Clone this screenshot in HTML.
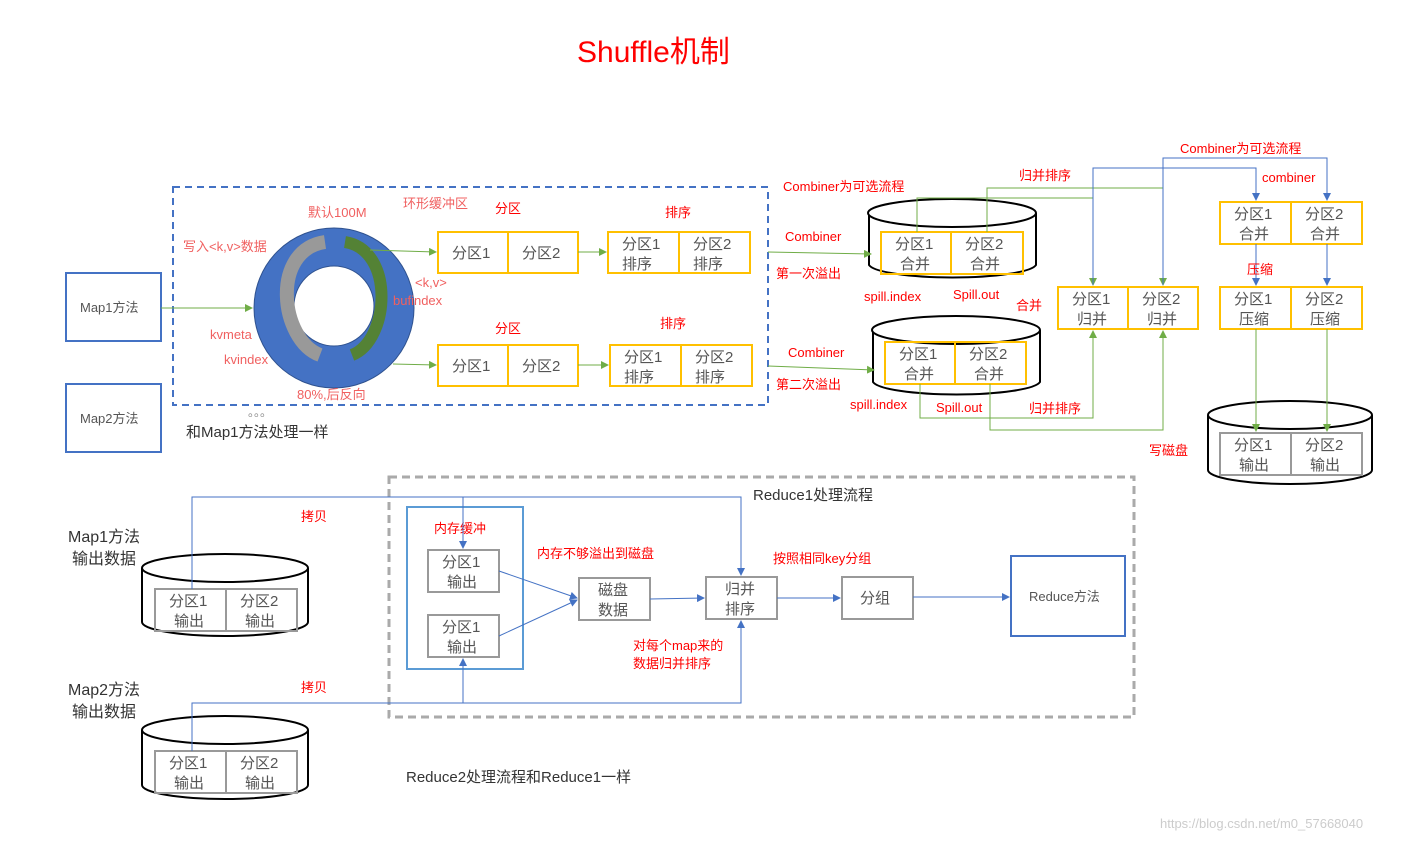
<!DOCTYPE html>
<html><head><meta charset="utf-8"><style>
body{margin:0;background:#fff}
svg text{font-family:"Liberation Sans","Noto Sans CJK SC",sans-serif}
.g{fill:#555;font-size:15px}
.r{fill:#f00;font-size:13px}
.p{fill:#f06060;font-size:13px}
</style></head><body>
<svg width="1415" height="840" viewBox="0 0 1415 840" xmlns="http://www.w3.org/2000/svg">
<defs>
<marker id="ag" markerWidth="8" markerHeight="8" refX="7" refY="4" orient="auto"><path d="M0,0L8,4L0,8z" fill="#70ad47"/></marker>
<marker id="ab" markerWidth="8" markerHeight="8" refX="7" refY="4" orient="auto"><path d="M0,0L8,4L0,8z" fill="#4472c4"/></marker>
</defs>
<text x="577" y="62" fill="#f00" font-size="30">Shuffle机制</text>
<!-- dashed big -->
<rect x="173" y="187" width="595" height="218" fill="none" stroke="#4472c4" stroke-width="2" stroke-dasharray="7,5"/>
<rect x="66" y="273" width="95" height="68" fill="none" stroke="#4472c4" stroke-width="2"/>
<text x="80" y="312" fill="#555" font-size="13">Map1方法</text>
<rect x="66" y="384" width="95" height="68" fill="none" stroke="#4472c4" stroke-width="2"/>
<text x="80" y="423" fill="#555" font-size="13">Map2方法</text>
<text x="248" y="416" fill="#888" font-size="12">。。。</text>
<text x="186" y="437" fill="#333" font-size="15">和Map1方法处理一样</text>
<!-- ring -->
<circle cx="334" cy="308" r="80" fill="#4472c4" stroke="#2f528f" stroke-width="1"/>
<circle cx="334" cy="306" r="40" fill="#fff" stroke="#2f528f"/>
<path d="M325,242 C270,250 280,340 320,355" fill="none" stroke="#999" stroke-width="14"/>
<path d="M345,242 C395,250 390,340 352,355" fill="none" stroke="#548235" stroke-width="12"/>
<line x1="161" y1="308" x2="252" y2="308" stroke="#70ad47" marker-end="url(#ag)"/>
<line x1="370" y1="250" x2="436" y2="252" stroke="#70ad47" marker-end="url(#ag)"/>
<line x1="393" y1="364" x2="436" y2="365" stroke="#70ad47" marker-end="url(#ag)"/>
<text x="308" y="217" class="p">默认100M</text>
<text x="403" y="208" class="p">环形缓冲区</text>
<text x="183" y="251" class="p">写入&lt;k,v&gt;数据</text>
<text x="415" y="287" class="p">&lt;k,v&gt;</text>
<text x="393" y="305" class="p">bufindex</text>
<text x="210" y="339" class="p">kvmeta</text>
<text x="224" y="364" class="p">kvindex</text>
<text x="297" y="399" class="p">80%,后反向</text>
<!-- partitions -->
<g fill="none" stroke="#ffc000" stroke-width="2">
<rect x="438" y="232" width="140" height="41"/><line x1="508" y1="232" x2="508" y2="273"/>
<rect x="438" y="345" width="140" height="41"/><line x1="508" y1="345" x2="508" y2="386"/>
<rect x="608" y="232" width="142" height="41"/><line x1="679" y1="232" x2="679" y2="273"/>
<rect x="610" y="345" width="142" height="41"/><line x1="681" y1="345" x2="681" y2="386"/>
</g>
<line x1="578" y1="252" x2="606" y2="252" stroke="#70ad47" marker-end="url(#ag)"/>
<line x1="578" y1="365" x2="608" y2="365" stroke="#70ad47" marker-end="url(#ag)"/>
<text x="452" y="258" class="g">分区1</text><text x="522" y="258" class="g">分区2</text>
<text x="452" y="371" class="g">分区1</text><text x="522" y="371" class="g">分区2</text>
<text x="622" y="249" class="g">分区1</text><text x="693" y="249" class="g">分区2</text>
<text x="622" y="269" class="g">排序</text><text x="693" y="269" class="g">排序</text>
<text x="624" y="362" class="g">分区1</text><text x="695" y="362" class="g">分区2</text>
<text x="624" y="382" class="g">排序</text><text x="695" y="382" class="g">排序</text>
<text x="495" y="213" class="r">分区</text><text x="665" y="217" class="r">排序</text>
<text x="495" y="333" class="r">分区</text><text x="660" y="328" class="r">排序</text>
<!-- cylinders -->
<g fill="#fff" stroke="#000" stroke-width="2">
<path d="M869,213 V265 A84,14 0 0 0 1036,265 V213"/><ellipse cx="952" cy="213" rx="84" ry="14"/>
<path d="M873,330 V382 A84,14 0 0 0 1040,382 V330"/><ellipse cx="956" cy="330" rx="84" ry="14"/>
<path d="M1208,415 V470 A82,14 0 0 0 1372,470 V415"/><ellipse cx="1290" cy="415" rx="82" ry="14"/>
<path d="M142,568 V622 A83,14 0 0 0 308,622 V568"/><ellipse cx="225" cy="568" rx="83" ry="14"/>
<path d="M142,730 V785 A83,14 0 0 0 308,785 V730"/><ellipse cx="225" cy="730" rx="83" ry="14"/>
</g>
<line x1="768" y1="252" x2="871" y2="254" stroke="#70ad47" marker-end="url(#ag)"/>
<line x1="768" y1="366" x2="874" y2="370" stroke="#70ad47" marker-end="url(#ag)"/>
<text x="785" y="241" class="r">Combiner</text><text x="776" y="278" class="r">第一次溢出</text>
<text x="788" y="357" class="r">Combiner</text><text x="776" y="389" class="r">第二次溢出</text>
<text x="783" y="191" class="r">Combiner为可选流程</text>
<text x="864" y="301" class="r">spill.index</text><text x="953" y="299" class="r">Spill.out</text>
<text x="850" y="409" class="r">spill.index</text><text x="936" y="412" class="r">Spill.out</text>
<text x="1016" y="310" class="r">合并</text>
<text x="1019" y="180" class="r">归并排序</text>
<text x="1029" y="413" class="r">归并排序</text>
<g fill="none" stroke="#ffc000" stroke-width="2">
<rect x="881" y="232" width="142" height="42"/><line x1="951" y1="232" x2="951" y2="274"/>
<rect x="885" y="342" width="141" height="42"/><line x1="955" y1="342" x2="955" y2="384"/>
<rect x="1058" y="287" width="140" height="42"/><line x1="1128" y1="287" x2="1128" y2="329"/>
<rect x="1220" y="202" width="142" height="42"/><line x1="1291" y1="202" x2="1291" y2="244"/>
<rect x="1220" y="287" width="142" height="42"/><line x1="1291" y1="287" x2="1291" y2="329"/>
</g>
<text x="895" y="249" class="g">分区1</text><text x="965" y="249" class="g">分区2</text>
<text x="900" y="269" class="g">合并</text><text x="970" y="269" class="g">合并</text>
<text x="899" y="359" class="g">分区1</text><text x="969" y="359" class="g">分区2</text>
<text x="904" y="379" class="g">合并</text><text x="974" y="379" class="g">合并</text>
<text x="1072" y="304" class="g">分区1</text><text x="1142" y="304" class="g">分区2</text>
<text x="1077" y="324" class="g">归并</text><text x="1147" y="324" class="g">归并</text>
<text x="1234" y="219" class="g">分区1</text><text x="1305" y="219" class="g">分区2</text>
<text x="1239" y="239" class="g">合并</text><text x="1310" y="239" class="g">合并</text>
<text x="1234" y="304" class="g">分区1</text><text x="1305" y="304" class="g">分区2</text>
<text x="1239" y="324" class="g">压缩</text><text x="1310" y="324" class="g">压缩</text>
<rect x="1220" y="433" width="142" height="42" fill="none" stroke="#999" stroke-width="2"/><line x1="1291" y1="433" x2="1291" y2="475" stroke="#999" stroke-width="2"/>
<text x="1234" y="450" class="g">分区1</text><text x="1305" y="450" class="g">分区2</text>
<text x="1239" y="470" class="g">输出</text><text x="1310" y="470" class="g">输出</text>
<!-- merge lines -->
<g fill="none" stroke="#70ad47">
<polyline points="917,232 917,198 1093,198 1093,285" marker-end="url(#ag)"/>
<polyline points="987,232 987,188 1163,188 1163,285" marker-end="url(#ag)"/>
<polyline points="920,384 920,418 1093,418 1093,331" marker-end="url(#ag)"/>
<polyline points="990,384 990,430 1163,430 1163,331" marker-end="url(#ag)"/>
<line x1="1256" y1="329" x2="1256" y2="431" marker-end="url(#ag)"/>
<line x1="1327" y1="329" x2="1327" y2="431" marker-end="url(#ag)"/>
</g>
<g fill="none" stroke="#4472c4">
<polyline points="1093,285 1093,168 1256,168 1256,200" marker-end="url(#ab)"/>
<polyline points="1163,285 1163,158 1327,158 1327,200" marker-end="url(#ab)"/>
<line x1="1256" y1="244" x2="1256" y2="285" marker-end="url(#ab)"/>
<line x1="1327" y1="244" x2="1327" y2="285" marker-end="url(#ab)"/>
</g>
<text x="1180" y="153" class="r">Combiner为可选流程</text>
<text x="1262" y="182" class="r">combiner</text>
<text x="1247" y="274" class="r">压缩</text>
<text x="1149" y="455" class="r">写磁盘</text>
<!-- reduce -->
<rect x="389" y="477" width="745" height="240" fill="none" stroke="#aaa" stroke-width="3" stroke-dasharray="8,5"/>
<text x="753" y="500" fill="#333" font-size="15">Reduce1处理流程</text>
<text x="68" y="542" fill="#333" font-size="16">Map1方法</text><text x="72" y="564" fill="#333" font-size="16">输出数据</text>
<text x="68" y="695" fill="#333" font-size="16">Map2方法</text><text x="72" y="717" fill="#333" font-size="16">输出数据</text>
<text x="406" y="782" fill="#333" font-size="15">Reduce2处理流程和Reduce1一样</text>
<g fill="none" stroke="#999" stroke-width="2">
<rect x="155" y="589" width="142" height="42"/><line x1="226" y1="589" x2="226" y2="631"/>
<rect x="155" y="751" width="142" height="42"/><line x1="226" y1="751" x2="226" y2="793"/>
<rect x="428" y="550" width="71" height="42"/>
<rect x="428" y="615" width="71" height="42"/>
<rect x="579" y="578" width="71" height="42"/>
<rect x="706" y="577" width="71" height="42"/>
<rect x="842" y="577" width="71" height="42"/>
</g>
<text x="169" y="606" class="g">分区1</text><text x="240" y="606" class="g">分区2</text>
<text x="174" y="626" class="g">输出</text><text x="245" y="626" class="g">输出</text>
<text x="169" y="768" class="g">分区1</text><text x="240" y="768" class="g">分区2</text>
<text x="174" y="788" class="g">输出</text><text x="245" y="788" class="g">输出</text>
<rect x="407" y="507" width="116" height="162" fill="none" stroke="#5b9bd5" stroke-width="2"/>
<text x="434" y="533" class="r">内存缓冲</text>
<text x="442" y="567" class="g">分区1</text><text x="447" y="587" class="g">输出</text>
<text x="442" y="632" class="g">分区1</text><text x="447" y="652" class="g">输出</text>
<text x="598" y="595" class="g">磁盘</text><text x="598" y="615" class="g">数据</text>
<text x="725" y="594" class="g">归并</text><text x="725" y="614" class="g">排序</text>
<text x="860" y="603" class="g">分组</text>
<rect x="1011" y="556" width="114" height="80" fill="none" stroke="#4472c4" stroke-width="2"/>
<text x="1029" y="601" fill="#555" font-size="13">Reduce方法</text>
<text x="537" y="558" class="r">内存不够溢出到磁盘</text>
<text x="773" y="563" class="r">按照相同key分组</text>
<text x="633" y="650" class="r">对每个map来的</text><text x="633" y="668" class="r">数据归并排序</text>
<text x="301" y="521" class="r">拷贝</text><text x="301" y="692" class="r">拷贝</text>
<g fill="none" stroke="#4472c4">
<polyline points="192,589 192,497 741,497 741,575" marker-end="url(#ab)"/>
<line x1="463" y1="497" x2="463" y2="548" marker-end="url(#ab)"/>
<polyline points="192,751 192,703 741,703 741,621" marker-end="url(#ab)"/>
<line x1="463" y1="703" x2="463" y2="659" marker-end="url(#ab)"/>
<line x1="499" y1="571" x2="577" y2="598" marker-end="url(#ab)"/>
<line x1="499" y1="636" x2="577" y2="600" marker-end="url(#ab)"/>
<line x1="650" y1="599" x2="704" y2="598" marker-end="url(#ab)"/>
<line x1="777" y1="598" x2="840" y2="598" marker-end="url(#ab)"/>
<line x1="913" y1="597" x2="1009" y2="597" marker-end="url(#ab)"/>
</g>
<text x="1160" y="828" fill="#ccc" font-size="13">https://blog.csdn.net/m0_57668040</text>
</svg>
</body></html>
